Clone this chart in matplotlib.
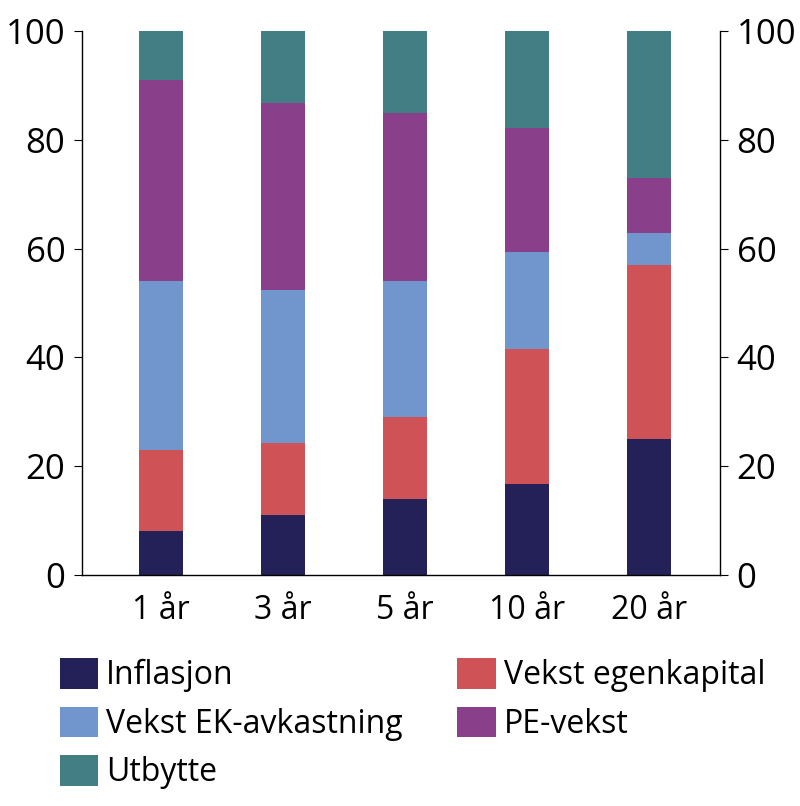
import matplotlib
matplotlib.use("Agg")
import matplotlib.pyplot as plt
import numpy as np

plt.rcParams["font.family"] = "Open Sans"

categories = ["1 år", "3 år", "5 år", "10 år", "20 år"]
series_names = ["Inflasjon", "Vekst egenkapital", "Vekst EK-avkastning", "PE-vekst", "Utbytte"]
inflasjon = [8, 11, 14, 16.7, 25]
vekst_ek = [15, 13.3, 15, 24.8, 32]
vekst_ek_avk = [31, 28.1, 25, 17.9, 5.9]
pe_vekst = [37, 34.4, 31, 22.8, 10.1]
utbytte = [9, 13.2, 15, 17.8, 27]
colors = ["#232157", "#cf5257", "#7195cd", "#8a3f8b", "#437e84"]

fig = plt.figure(figsize=(8, 8.06), dpi=100)
ax = fig.add_axes([82/800, 1-575/806, 638/800, 544/806])
x = np.arange(len(categories))
bottom = np.zeros(len(categories))
for name, vals, c in zip(series_names, [inflasjon, vekst_ek, vekst_ek_avk, pe_vekst, utbytte], colors):
    ax.bar(x, vals, 0.36, bottom=bottom, color=c, label=name)
    bottom += np.array(vals)
ax.set_xlim(-0.65, 4.58)
ax.set_ylim(0, 100)
ax.set_xticks(x)
ax.set_xticklabels(categories)
ax.set_yticks(range(0, 101, 20))
ax.tick_params(axis="y", labelsize=25, direction="out", length=6, color="black", pad=6)
ax.tick_params(axis="x", labelsize=23, length=0, pad=14)
ax.tick_params(axis="y", right=True, labelright=True)
ax.spines["top"].set_visible(False)
for s in ["left", "right", "bottom"]:
    ax.spines[s].set_linewidth(1)
handles, labels = ax.get_legend_handles_labels()
order = [0, 2, 4, 1, 3]
fig.legend([handles[i] for i in order], [labels[i] for i in order], ncol=2,
           loc="upper left", bbox_to_anchor=(60/800, 1-658/806), frameon=False,
           fontsize=23, handlelength=1.2, handleheight=1.1, columnspacing=1.7,
           labelspacing=0.45, handletextpad=0.25, borderaxespad=0, borderpad=0)
fig.savefig("out.png", dpi=100)
